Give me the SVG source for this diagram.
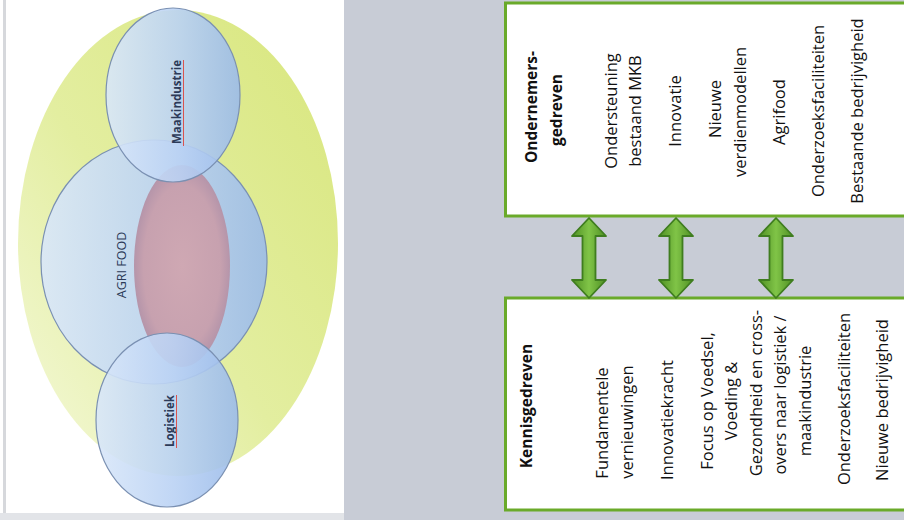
<svg xmlns="http://www.w3.org/2000/svg" width="904" height="520" viewBox="0 0 904 520">
  <defs>
    <style>
      .t { font-family: "Open Sans", "Noto Sans", "Liberation Sans", sans-serif; font-size: 16.5px; fill: #111; text-anchor: middle; }
      .b { font-weight: bold; font-size: 15.5px; }
      .lbl { font-family: "Open Sans", "Liberation Sans", sans-serif; fill: #2c3a58; text-anchor: middle; }
      .box { fill: #ffffff; stroke: #6aaa2a; stroke-width: 3; }
      .blue { fill: url(#blueGrad); stroke: #7a90b2; stroke-width: 1.2; fill-opacity: 0.9; }
      .arrow { fill: url(#arrowGrad); stroke: #3f7d1f; stroke-width: 1.8; stroke-linejoin: round; }
    </style>
    <linearGradient id="yellowGrad" x1="1" y1="0" x2="0" y2="1">
      <stop offset="0" stop-color="#d8e67c"/>
      <stop offset="0.55" stop-color="#e3eea0"/>
      <stop offset="1" stop-color="#f5f9dc"/>
    </linearGradient>
    <linearGradient id="blueGrad" x1="0" y1="0" x2="1" y2="0">
      <stop offset="0" stop-color="#d9e7f9"/>
      <stop offset="0.55" stop-color="#bad2f4"/>
      <stop offset="1" stop-color="#9bbbea"/>
    </linearGradient>
    <radialGradient id="pinkGrad" cx="0.5" cy="0.5" r="0.5">
      <stop offset="0" stop-color="#cfa8b3"/>
      <stop offset="0.8" stop-color="#c7a1af"/>
      <stop offset="1" stop-color="#b595aa"/>
    </radialGradient>
    <linearGradient id="arrowGrad" x1="0" y1="0" x2="1" y2="0">
      <stop offset="0" stop-color="#4f8f24"/>
      <stop offset="0.5" stop-color="#80c447"/>
      <stop offset="1" stop-color="#4f8f24"/>
    </linearGradient>
    <path id="dblArrow" d="M0,0 L17,18 L6.5,18 L6.5,62 L17,62 L0,80 L-17,62 L-6.5,62 L-6.5,18 L-17,18 Z"/>
  </defs>

  <!-- backgrounds -->
  <rect x="0" y="0" width="904" height="520" fill="#ffffff"/>
  <rect x="344" y="0" width="560" height="520" fill="#c8ccd6"/>
  <rect x="3" y="0" width="3" height="514" fill="#d6d8dc"/>
  <rect x="0" y="513" width="344" height="7" fill="#e2e4e8"/>

  <!-- left venn diagram -->
  <g id="venn">
    <ellipse id="outer" cx="178" cy="243" rx="160" ry="233" fill="url(#yellowGrad)"/>
    <g id="agrifood">
      <ellipse class="blue" cx="154" cy="262" rx="113" ry="122"/>
    </g>
    <ellipse id="core" cx="182" cy="266" rx="48" ry="101" fill="url(#pinkGrad)"/>
    <g id="maakindustrie">
      <ellipse class="blue" cx="173" cy="95" rx="67" ry="87"/>
    </g>
    <g id="logistiek">
      <ellipse class="blue" cx="167" cy="420" rx="71" ry="87"/>
    </g>
    <text class="lbl" font-size="12.5" transform="translate(126,265) rotate(-90)">AGRI FOOD</text>
    <text class="lbl" font-size="11.5" font-weight="bold" transform="translate(181,102) rotate(-90)">Maakindustrie</text>
    <line x1="183.5" y1="60" x2="183.5" y2="146" stroke="#d9534f" stroke-width="1"/>
    <text class="lbl" font-size="11.5" font-weight="bold" transform="translate(174,421) rotate(-90)">Logistiek</text>
    <line x1="176.5" y1="395" x2="176.5" y2="448" stroke="#d9534f" stroke-width="1"/>
  </g>

  <!-- top box: Ondernemersgedreven -->
  <g id="ondernemersgedreven">
    <rect class="box" x="505.5" y="3" width="410" height="213"/>
    <text class="t b" transform="translate(537,107) rotate(-90)">Ondernemers-</text>
    <text class="t b" transform="translate(562,110) rotate(-90)">gedreven</text>
    <text class="t" transform="translate(617,111) rotate(-90)">Ondersteuning</text>
    <text class="t" transform="translate(641,111) rotate(-90)">bestaand MKB</text>
    <text class="t" transform="translate(681,111) rotate(-90)">Innovatie</text>
    <text class="t" transform="translate(721,109) rotate(-90)">Nieuwe</text>
    <text class="t" transform="translate(746,112) rotate(-90)">verdienmodellen</text>
    <text class="t" transform="translate(785,112) rotate(-90)">Agrifood</text>
    <text class="t" transform="translate(824,111) rotate(-90)">Onderzoeksfaciliteiten</text>
    <text class="t" transform="translate(863,111) rotate(-90)">Bestaande bedrijvigheid</text>
  </g>

  <!-- bottom box: Kennisgedreven -->
  <g id="kennisgedreven">
    <rect class="box" x="505.5" y="298" width="410" height="212"/>
    <text class="t b" transform="translate(532,406) rotate(-90)">Kennisgedreven</text>
    <text class="t" transform="translate(608,423) rotate(-90)">Fundamentele</text>
    <text class="t" transform="translate(633,422) rotate(-90)">vernieuwingen</text>
    <text class="t" transform="translate(673,420) rotate(-90)">Innovatiekracht</text>
    <text class="t" transform="translate(713,401) rotate(-90)">Focus op Voedsel,</text>
    <text class="t" transform="translate(737,401) rotate(-90)">Voeding &amp;</text>
    <text class="t" transform="translate(762,393) rotate(-90)">Gezondheid en cross-</text>
    <text class="t" transform="translate(786,395) rotate(-90)">overs naar logistiek /</text>
    <text class="t" transform="translate(811,401) rotate(-90)">maakindustrie</text>
    <text class="t" transform="translate(850,399) rotate(-90)">Onderzoeksfaciliteiten</text>
    <text class="t" transform="translate(888,400) rotate(-90)">Nieuwe bedrijvigheid</text>
  </g>

  <!-- connectors -->
  <g id="connectors">
    <use href="#dblArrow" class="arrow" transform="translate(589,218)"/>
    <use href="#dblArrow" class="arrow" transform="translate(676,218)"/>
    <use href="#dblArrow" class="arrow" transform="translate(776,218)"/>
  </g>
</svg>
